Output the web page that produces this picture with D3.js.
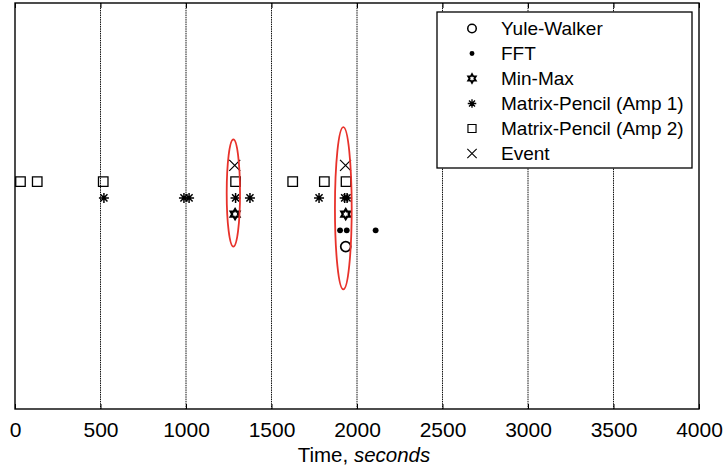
<!DOCTYPE html>
<html>
<head>
<meta charset="utf-8">
<script src="https://cdn.jsdelivr.net/npm/d3@7"></script>
<style>
  body { margin: 0; background: #fff; }
  svg { font-family: "Liberation Sans", Arial, Helvetica, sans-serif; }
  .grid line { stroke: #111; stroke-width: 1; stroke-dasharray: 1.5,0.8; }
  .axis text { font-size: 21px; fill: #000; }
  .axis path { display: none; }
  .axis line { stroke: #000; }
</style>
</head>
<body>
<script>
//tick labels on the time axis
var xTicks = [0, 500, 1000, 1500, 2000, 2500, 3000, 3500, 4000];

//method names, legend order, and the row each one sits on
var methods = ["Yule-Walker", "FFT", "Min-Max", "Matrix-Pencil (Amp 1)", "Matrix-Pencil (Amp 2)", "Event"];
var rowLevels = [10, 11, 12, 13, 14, 15];

//detected times (seconds) for each method
var yuleWalkerTimes = [1934];
var fftTimes = [1901, 1940, 2109];
var minMaxTimes = [1287, 1934];
var amp1Times = [520, 988, 1018, 1290, 1374, 1778, 1928, 1942];
var amp2Times = [32, 130, 516, 1290, 1624, 1809, 1936];
var eventTimes = [1285, 1933];

//highlight ellipses (time, level)
var ellipseCx = [1277, 1920];
var ellipseCy = [13.3, 12.36];
var ellipseRx = [39, 49];
var ellipseRy = [3.3, 5];

(function(){

    var width = 727, height = 470;
    var left = 15, right = 699, top = 3, bottom = 409;

    var svg = d3.select("body")
        .append("svg")
        .attr("width", width)
        .attr("height", height);

    var x = d3.scaleLinear().domain([0, 4000]).range([left, right]);
    var y = d3.scaleLinear().domain([0, 25]).range([bottom, top]);

    //dotted vertical grid
    svg.append("g")
        .attr("class", "grid")
        .selectAll("line")
        .data(xTicks.slice(1, -1))
        .enter()
        .append("line")
        .attr("x1", function(d){ return x(d); })
        .attr("x2", function(d){ return x(d); })
        .attr("y1", top)
        .attr("y2", bottom);

    //bottom axis, ticks pointing in
    svg.append("g")
        .attr("class", "axis")
        .attr("transform", "translate(0," + bottom + ")")
        .call(d3.axisBottom(x).tickValues(xTicks).tickSize(-5).tickPadding(13).tickFormat(d3.format("d")));

    //top axis ticks
    svg.append("g")
        .attr("class", "axis")
        .attr("transform", "translate(0," + top + ")")
        .call(d3.axisTop(x).tickValues(xTicks).tickSize(-5).tickFormat(""));

    //frame
    svg.append("rect")
        .attr("x", left)
        .attr("y", top)
        .attr("width", right - left)
        .attr("height", bottom - top)
        .attr("fill", "none")
        .attr("stroke", "#000")
        .attr("stroke-width", 1.4);

    //axis title
    var title = svg.append("text")
        .attr("x", 364)
        .attr("y", 462)
        .attr("text-anchor", "middle")
        .style("font-size", "20.5px");
    title.append("tspan").text("Time, ");
    title.append("tspan").style("font-style", "italic").text("seconds");

    //marker shapes
    function starPath(r){
        var p = "";
        for (var k = 0; k < 4; k++){
            var a = k * Math.PI / 4;
            var dx = r * Math.cos(a), dy = r * Math.sin(a);
            p += "M" + (-dx) + "," + (-dy) + "L" + dx + "," + dy;
        }
        return p;
    }
    function hexagramPath(r){
        var pts = [];
        for (var k = 0; k < 12; k++){
            var rr = (k % 2 === 0) ? r : r * 0.577;
            var a = -Math.PI / 2 + k * Math.PI / 6;
            pts.push([rr * Math.cos(a), rr * Math.sin(a)]);
        }
        return "M" + pts.map(function(p){ return p.join(","); }).join("L") + "Z";
    }
    function squarePath(s){
        var h = s / 2;
        return "M" + (-h) + "," + (-h) + "H" + h + "V" + h + "H" + (-h) + "Z";
    }
    function crossPath(h){
        return "M" + (-h) + "," + (-h) + "L" + h + "," + h + "M" + (-h) + "," + h + "L" + h + "," + (-h);
    }

    //one style per method, same order as methods
    function markerStyles(big){
        var s = big ? 1 : 0.85;
        return [
            {d: d3.symbol().type(d3.symbolCircle).size(Math.PI * 25 * s * s)(), fill: "none", sw: 1.7},
            {d: d3.symbol().type(d3.symbolCircle).size(Math.PI * 8.5 * s * s)(), fill: "#000", sw: 0},
            {d: hexagramPath(5 * s), fill: "none", sw: 2.2},
            {d: starPath(5 * s), fill: "none", sw: 1.5},
            {d: squarePath(9.5 * s), fill: "none", sw: 1.3},
            {d: crossPath(5.5 * s), fill: "none", sw: 1.2}
        ];
    }

    var series = [yuleWalkerTimes, fftTimes, minMaxTimes, amp1Times, amp2Times, eventTimes];
    var styles = markerStyles(true);

    series.forEach(function(times, i){
        svg.append("g")
            .selectAll("path")
            .data(times)
            .enter()
            .append("path")
            .attr("transform", function(d){ return "translate(" + x(d) + "," + y(rowLevels[i]) + ")"; })
            .attr("d", styles[i].d)
            .attr("fill", styles[i].fill)
            .attr("stroke", "#000")
            .attr("stroke-width", styles[i].sw);
    });

    //red ellipses around the detections
    svg.append("g")
        .selectAll("ellipse")
        .data(ellipseCx)
        .enter()
        .append("ellipse")
        .attr("cx", function(d){ return x(d); })
        .attr("cy", function(d, i){ return y(ellipseCy[i]); })
        .attr("rx", function(d, i){ return x(ellipseRx[i]) - x(0); })
        .attr("ry", function(d, i){ return y(0) - y(ellipseRy[i]); })
        .attr("fill", "none")
        .attr("stroke", "#e8322b")
        .attr("stroke-width", 1.8);

    //legend
    var legend = svg.append("g");
    legend.append("rect")
        .attr("x", 437)
        .attr("y", 12)
        .attr("width", 255)
        .attr("height", 156)
        .attr("fill", "#fff")
        .attr("stroke", "#000")
        .attr("stroke-width", 1.3);

    var legStyles = markerStyles(false);
    var rows = legend.selectAll(".leg")
        .data(methods)
        .enter()
        .append("g")
        .attr("class", "leg")
        .attr("transform", function(d, i){ return "translate(0," + (28.5 + i * 25) + ")"; });

    rows.append("path")
        .attr("transform", "translate(472,0)")
        .attr("d", function(d, i){ return legStyles[i].d; })
        .attr("fill", function(d, i){ return legStyles[i].fill; })
        .attr("stroke", "#000")
        .attr("stroke-width", function(d, i){ return legStyles[i].sw * 0.9; });

    rows.append("text")
        .attr("x", 501)
        .attr("dy", "0.36em")
        .style("font-size", "19px")
        .text(function(d){ return d; });

})();
</script>
</body>
</html>
